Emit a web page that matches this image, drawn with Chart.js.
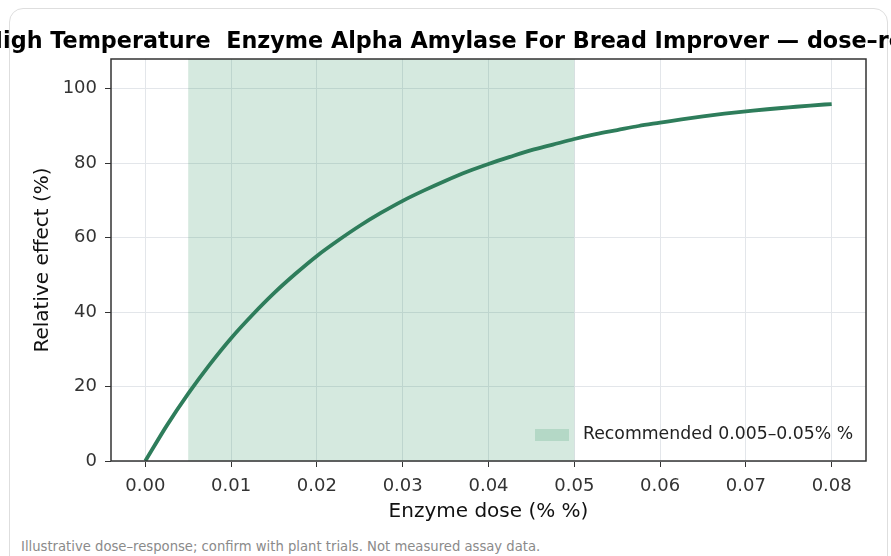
<!DOCTYPE html>
<html>
<head>
<meta charset="utf-8">
<script src="https://cdn.jsdelivr.net/npm/chart.js@4.4.1/dist/chart.umd.min.js"></script>
<style>
  body { margin: 0; background: #fff; width: 891px; height: 556px; overflow: hidden; position: relative; }
  .card { position: absolute; left: 9px; top: 8px; width: 877px; height: 560px; border: 1px solid #dedede; border-radius: 14px; background: #fff; }
  #wrap { position: absolute; left: 0; top: 0; width: 891px; height: 530px; }
  .note { position: absolute; left: 21px; top: 539px; font: 13.2px "DejaVu Sans", sans-serif; color: #8a8a8a; }
</style>
</head>
<body>
<div class="card"></div>
<div id="wrap"><canvas id="doseChart" width="891" height="530"></canvas></div>
<div class="note">Illustrative dose–response; confirm with plant trials. Not measured assay data.</div>
<script>
// values
var doses = [0, 0.0025, 0.005, 0.0075, 0.01, 0.0125, 0.015, 0.0175, 0.02, 0.0225, 0.025, 0.0275, 0.03,
             0.0325, 0.035, 0.0375, 0.04, 0.0425, 0.045, 0.0475, 0.05, 0.0525, 0.055, 0.0575, 0.06,
             0.0625, 0.065, 0.0675, 0.07, 0.0725, 0.075, 0.0775, 0.08];
var effects = [0, 9.5, 18.1, 25.9, 33.0, 39.3, 45.1, 50.3, 55.1, 59.3, 63.2, 66.7, 69.9,
               72.7, 75.3, 77.7, 79.8, 81.7, 83.5, 85.0, 86.5, 87.8, 88.9, 90.0, 90.9,
               91.8, 92.6, 93.3, 93.9, 94.5, 95.0, 95.5, 95.9];
var xTicks = [0, 0.01, 0.02, 0.03, 0.04, 0.05, 0.06, 0.07, 0.08];
var yTicks = [0, 20, 40, 60, 80, 100];
var bandRange = [0.005, 0.05];
var bandLabel = "Recommended 0.005–0.05% %";
var titleText = "High Temperature  Enzyme Alpha Amylase For Bread Improver — dose–response";

var lineColor = "#2e7d5b";
var bandColor = "rgba(46,145,95,0.2)";

// shaded band, frame, legend and title
var extras = {
  id: "extras",
  beforeDatasetsDraw: function (chart) {
    var c = chart.ctx, a = chart.chartArea, x = chart.scales.x;
    var x0 = x.getPixelForValue(bandRange[0]), x1 = x.getPixelForValue(bandRange[1]);
    c.save();
    c.fillStyle = bandColor;
    c.fillRect(x0, a.top, x1 - x0, a.bottom - a.top);
    c.restore();
  },
  afterDraw: function (chart) {
    var c = chart.ctx, a = chart.chartArea;
    c.save();
    c.strokeStyle = "#333";
    c.lineWidth = 1.5;
    c.strokeRect(a.left, a.top, a.right - a.left, a.bottom - a.top);

    // legend
    c.fillStyle = bandColor;
    c.fillRect(a.right - 331, a.bottom - 32, 34, 12);
    c.fillStyle = "#222";
    c.font = "17.3px 'DejaVu Sans'";
    c.textBaseline = "middle";
    c.fillText(bandLabel, a.right - 283, a.bottom - 26);

    // title
    c.font = "bold 22.3px 'DejaVu Sans'";
    c.textAlign = "center";
    c.textBaseline = "alphabetic";
    c.fillStyle = "#000";
    c.fillText(titleText, (a.left + a.right) / 2, 48);
    c.restore();
  }
};

var ctx = document.getElementById("doseChart").getContext("2d");
var doseChart = new Chart(ctx, {
  type: "line",
  data: {
    datasets: [{
      data: doses.map(function (d, i) { return { x: d, y: effects[i] }; }),
      borderColor: lineColor,
      borderWidth: 3.8,
      pointRadius: 0,
      cubicInterpolationMode: "monotone",
      fill: false
    }]
  },
  options: {
    responsive: false,
    animation: false,
    layout: { padding: { left: 0, right: 25, top: 59, bottom: 0 } },
    plugins: { legend: { display: false }, tooltip: { enabled: false } },
    scales: {
      x: {
        type: "linear",
        min: -0.004,
        max: 0.084,
        afterBuildTicks: function (s) { s.ticks = xTicks.map(function (v) { return { value: v }; }); },
        afterFit: function (s) { s.height = 69; },
        ticks: {
          color: "#333",
          padding: 9,
          maxRotation: 0,
          font: { family: "DejaVu Sans", size: 18 },
          callback: function (v) { return v.toFixed(2); }
        },
        grid: { color: "#e3e6ea", lineWidth: 1, tickColor: "#333", tickLength: 6 },
        border: { display: false },
        title: {
          display: true,
          text: "Enzyme dose (% %)",
          color: "#111",
          font: { family: "DejaVu Sans", size: 20 },
          padding: { top: 0, bottom: 6 }
        }
      },
      y: {
        min: 0,
        max: 108,
        afterBuildTicks: function (s) { s.ticks = yTicks.map(function (v) { return { value: v }; }); },
        afterFit: function (s) { s.width = 111; },
        ticks: {
          color: "#333",
          padding: 8,
          font: { family: "DejaVu Sans", size: 18 }
        },
        grid: { color: "#e3e6ea", lineWidth: 1, tickColor: "#333", tickLength: 6 },
        border: { display: false },
        title: {
          display: true,
          text: "Relative effect (%)",
          color: "#111",
          font: { family: "DejaVu Sans", size: 20 },
          padding: { top: 31, bottom: 0 }
        }
      }
    }
  },
  plugins: [extras]
});
</script>
</body>
</html>
